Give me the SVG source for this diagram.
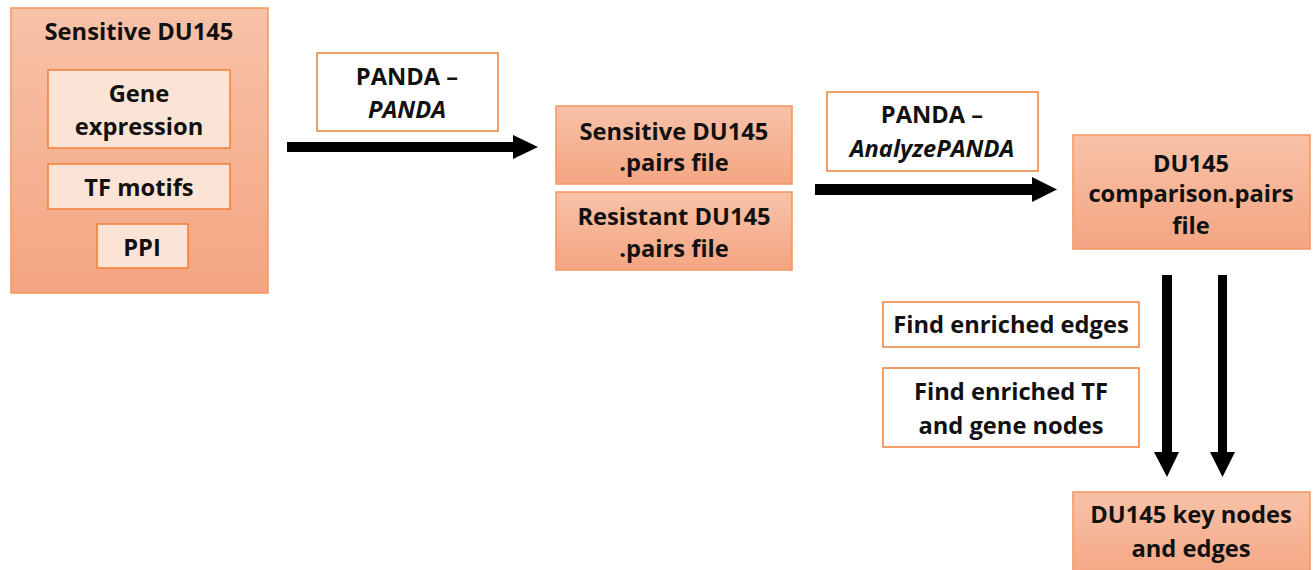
<svg xmlns="http://www.w3.org/2000/svg" width="1316" height="570" viewBox="0 0 1316 570">
  <defs>
    <linearGradient id="peach" x1="0" y1="0" x2="0" y2="1">
      <stop offset="0" stop-color="#f8c2a8"/>
      <stop offset="1" stop-color="#f4a582"/>
    </linearGradient>
    <style>
      text { font-family: "Open Sans", "Liberation Sans", sans-serif; font-weight: bold; font-size: 23.7px; fill: #111; text-anchor: middle; }
      .it { font-style: italic; }
      .peach { fill: url(#peach); stroke: #f29660; stroke-width: 1.5; }
      .light { fill: #fbe4d5; stroke: #f07f38; stroke-width: 1.5; }
      .label { fill: #ffffff; stroke: #f07f38; stroke-width: 1.5; }
      .arrow { fill: #000; }
    </style>
  </defs>

  <!-- Input network data -->
  <g id="sensitive-input">
    <rect class="peach" x="11" y="8" width="257" height="285"/>
    <text x="139" y="40">Sensitive DU145</text>
  </g>
  <g id="gene-expression">
    <rect class="light" x="48" y="70" width="182" height="78"/>
    <text x="139" y="102">Gene</text>
    <text x="139" y="135">expression</text>
  </g>
  <g id="tf-motifs">
    <rect class="light" x="48" y="164" width="182" height="45"/>
    <text x="139" y="196">TF motifs</text>
  </g>
  <g id="ppi">
    <rect class="light" x="97" y="224" width="91" height="44"/>
    <text x="142" y="256">PPI</text>
  </g>

  <!-- Step labels -->
  <g id="label-panda">
    <rect class="label" x="317" y="53" width="181" height="78"/>
    <text x="407" y="85">PANDA –</text>
    <text class="it" x="407" y="118">PANDA</text>
  </g>
  <g id="label-analyze">
    <rect class="label" x="827" y="92" width="211" height="79"/>
    <text x="932" y="123">PANDA –</text>
    <text class="it" x="932" y="157">AnalyzePANDA</text>
  </g>
  <g id="label-edges">
    <rect class="label" x="883" y="302" width="256" height="45"/>
    <text x="1011" y="333">Find enriched edges</text>
  </g>
  <g id="label-nodes">
    <rect class="label" x="883" y="368" width="256" height="79"/>
    <text x="1011" y="400">Find enriched TF</text>
    <text x="1011" y="434">and gene nodes</text>
  </g>

  <!-- Intermediate and output files -->
  <g id="sensitive-pairs">
    <rect class="peach" x="556" y="106" width="236" height="78"/>
    <text x="674" y="140">Sensitive DU145</text>
    <text x="674" y="171">.pairs file</text>
  </g>
  <g id="resistant-pairs">
    <rect class="peach" x="556" y="192" width="236" height="78"/>
    <text x="674" y="225">Resistant DU145</text>
    <text x="674" y="257">.pairs file</text>
  </g>
  <g id="comparison-pairs">
    <rect class="peach" x="1073" y="135" width="237" height="114"/>
    <text x="1191" y="172">DU145</text>
    <text x="1191" y="202">comparison.pairs</text>
    <text x="1191" y="234">file</text>
  </g>
  <g id="key-nodes">
    <rect class="peach" x="1073" y="492" width="237" height="90"/>
    <text x="1191" y="523">DU145 key nodes</text>
    <text x="1191" y="557">and edges</text>
  </g>

  <!-- Connectors: block arrows -->
  <g id="connectors">
    <polygon class="arrow" points="287,142 513,142 513,135 538,147 513,159 513,152 287,152"/>
    <polygon class="arrow" points="815,184 1032,184 1032,177 1057,189.5 1032,202 1032,195 815,195"/>
    <polygon class="arrow" points="1162,275 1172,275 1172,452 1179,452 1167,477 1154,452 1162,452"/>
    <polygon class="arrow" points="1218,275 1227,275 1227,452 1235,452 1222.5,477 1210,452 1218,452"/>
  </g>
</svg>
